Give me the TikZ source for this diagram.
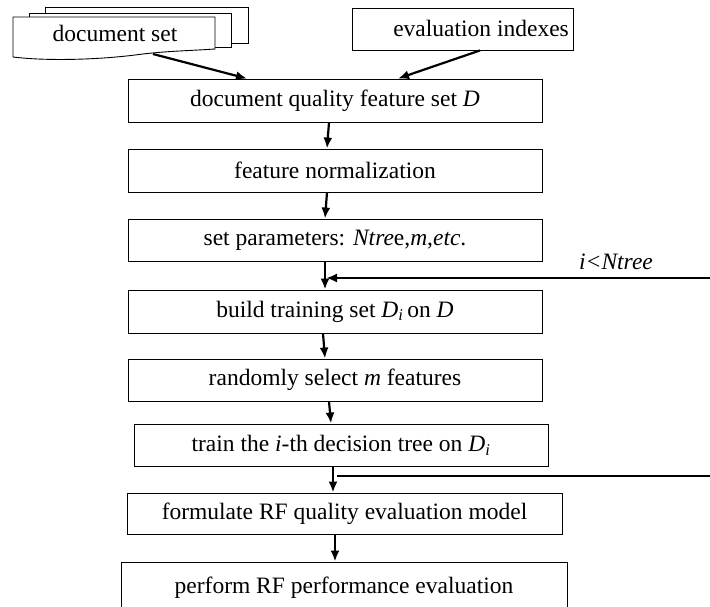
\documentclass[tikz,border=0pt]{standalone}
\usepackage{fontspec}
\setmainfont{Liberation Serif}
\usetikzlibrary{arrows.meta}
\newcommand{\subi}{\textsubscript{\textit{i}}}
\begin{document}
\begin{tikzpicture}[x=1pt,y=-1pt,
  box/.style={draw, line width=0.9pt, fill=white, minimum width=414pt, minimum height=43pt, inner sep=0pt, font=\fontsize{23.5}{27}\selectfont},
  arr/.style={line width=2.2pt, -{Latex[length=11pt,width=9pt]}},
  plain/.style={line width=2.2pt},
  docsheet/.style={draw, line width=0.9pt, fill=white}]
\useasboundingbox (0,0) rectangle (710,606);
% document set (stacked documents)
\draw[docsheet] (45,7) rectangle (248,43);
\draw[docsheet] (29,13) rectangle (231,47);
\draw[docsheet] (13,17) -- (215,17) -- (215,49)
  .. controls (185,51) and (165,51) .. (135,55)
  .. controls (95,60) and (45,61) .. (13,57) -- cycle;
\node[font=\fontsize{23.5}{27}\selectfont, inner sep=0pt] (ds) at (115,33) {document set};
\coordinate (dsout) at (153,54);
% evaluation indexes
\node[box, minimum width=221pt, minimum height=42pt] (ei) at (462.5,29) {};
\node[font=\fontsize{23.5}{27}\selectfont, inner sep=0pt, anchor=east] (eit) at (569,28) {evaluation indexes};
% main chain
\node[box] (dq) at (335,100.5) {document quality feature set \textit{D}};
\node[box] (fn) at (335,170.5) {feature normalization};
\node[box, minimum height=42pt] (sp) at (335,240) {set parameters: \textit{Ntre}e,\textit{m},\textit{etc}.};
\node[box] (bt) at (335,311.5) {build training set \textit{D}\subi\,on \textit{D}};
\node[box, minimum height=42pt] (rs) at (335,380) {randomly select \textit{m} features};
\node[box, minimum height=42pt] (tt) at (341,445) {train the \textit{i}-th decision tree on \textit{D}\subi};
\node[box, minimum width=435pt, minimum height=41pt] (fm) at (344.5,513.5) {formulate RF quality evaluation model};
\node[box, minimum width=446pt, minimum height=52pt] (pf) at (344,588) {\raisebox{6pt}{perform RF performance evaluation}};
% loop label
\node[font=\fontsize{23.5}{27}\selectfont\itshape, inner sep=0pt] (lab) at (616,262) {i<Ntree};
% connectors
\draw[arr] (dsout) -- ([xshift=-88pt]dq.north);
\draw[arr] ([xshift=17.5pt]ei.south) -- ([xshift=63pt]dq.north);
\draw[arr] ([xshift=-6pt]dq.south) -- ([xshift=-8pt]fn.north);
\draw[arr] ([xshift=-8pt]fn.south) -- ([xshift=-10pt]sp.north);
\draw[arr] ([xshift=-10pt]sp.south) -- ([xshift=-10pt]bt.north);
\coordinate (loopin) at (712,278);
\coordinate (j1) at (326,278);
\draw[arr] (loopin) -- (j1);
\draw[arr] ([xshift=-12pt]bt.south) -- ([xshift=-10pt]rs.north);
\draw[arr] ([xshift=-6pt]rs.south) -- ([xshift=-10pt]tt.north);
\draw[arr] ([xshift=-8pt]tt.south) -- ([xshift=-11.5pt]fm.north);
\coordinate (j2) at (337,476);
\coordinate (loopout) at (712,476);
\draw[plain] (j2) -- (loopout);
\draw[arr] ([xshift=-9.5pt]fm.south) -- ([xshift=-9pt]pf.north);
\end{tikzpicture}
\end{document}
